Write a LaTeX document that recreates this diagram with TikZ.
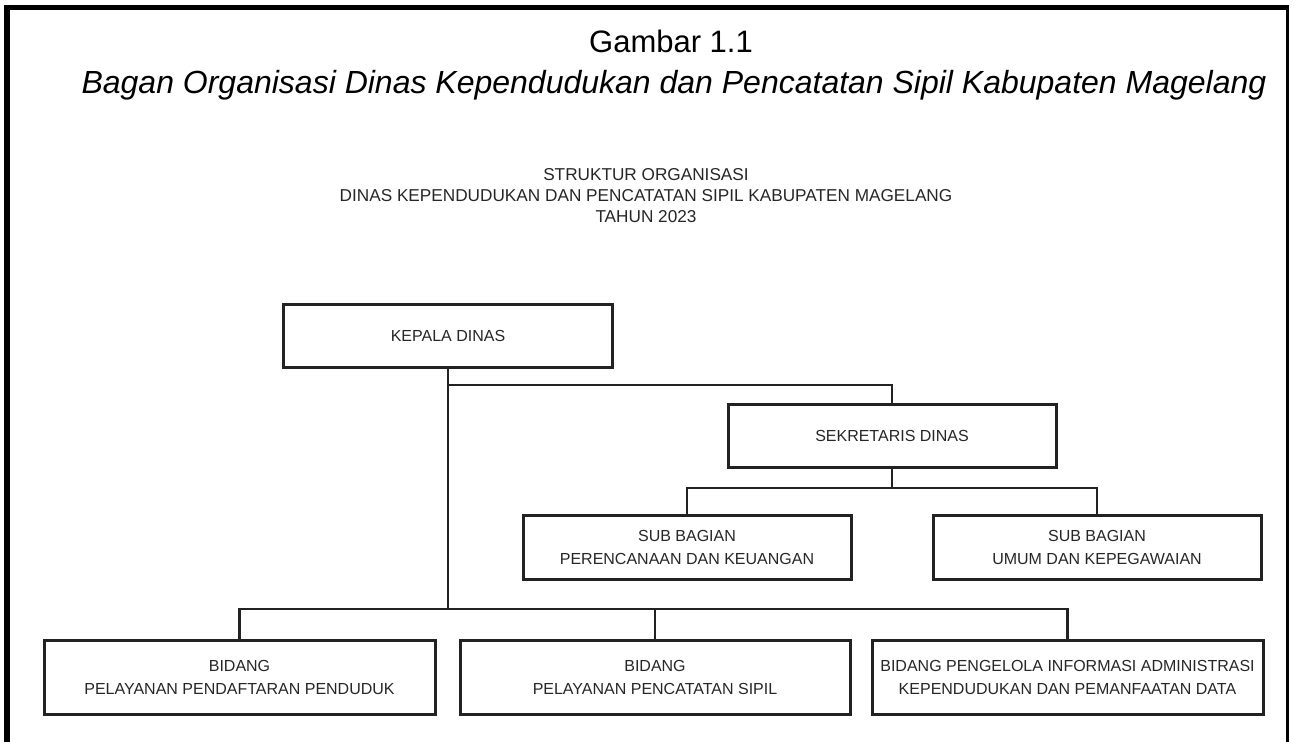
\documentclass[tikz,border=0pt]{standalone}
\usepackage{fontspec}
\setmainfont{Liberation Sans}
\definecolor{ink}{HTML}{222222}
\definecolor{txt}{HTML}{262626}
\begin{document}
\begin{tikzpicture}[x=1pt,y=-1pt,
  orgbox/.style={draw=ink, line width=3pt, rectangle, inner sep=0pt, align=center,
    text=txt, font=\fontsize{16}{23}\selectfont, minimum height=63pt, minimum width=328pt},
  widebox/.style={orgbox, minimum width=391pt, minimum height=74pt},
  conn/.style={draw=ink, line width=2.8pt, line join=miter},
  subtitle/.style={anchor=base, text=txt, font=\fontsize{17.2}{20}\selectfont, inner sep=0pt}]
\useasboundingbox (0,0) rectangle (1294,742);
% frame
\draw[line width=5.5pt] (7,742) -- (7,7.5) -- (1287,7.5);
\draw[line width=3pt] (1287,5) -- (1287,742);
% titles
\node[anchor=base, inner sep=0pt, font=\fontsize{31}{37}\selectfont] (t1) at (671,52) {Gambar 1.1};
\node[anchor=base, inner sep=0pt, font=\fontsize{32}{38}\selectfont\itshape] (t2) at (674,93) {Bagan Organisasi Dinas Kependudukan dan Pencatatan Sipil Kabupaten Magelang};
\node[subtitle] (s1) at (646,180) {STRUKTUR ORGANISASI};
\node[subtitle] (s2) at (646,201) {DINAS KEPENDUDUKAN DAN PENCATATAN SIPIL KABUPATEN MAGELANG};
\node[subtitle] (s3) at (646,222) {TAHUN 2023};
% boxes
\node[orgbox, minimum width=329pt] (kep) at (448,335.5) {KEPALA DINAS};
\node[orgbox] (sek) at (892,435.5) {SEKRETARIS DINAS};
\node[orgbox, minimum height=64pt] (sub1) at (687,547) {SUB BAGIAN\\PERENCANAAN DAN KEUANGAN};
\node[orgbox, minimum height=64pt] (sub2) at (1097,547) {SUB BAGIAN\\UMUM DAN KEPEGAWAIAN};
\node[widebox] (bid1) at (239.5,677) {BIDANG\\PELAYANAN PENDAFTARAN PENDUDUK};
\node[widebox, minimum width=390pt] (bid2) at (655,677) {BIDANG\\PELAYANAN PENCATATAN SIPIL};
\node[widebox] (bid3) at (1067.5,677) {BIDANG PENGELOLA INFORMASI ADMINISTRASI\\KEPENDUDUKAN DAN PEMANFAATAN DATA};
% bus levels
\coordinate (busK) at (0,385);
\coordinate (busS) at (0,488);
\coordinate (busB) at (0,609);
% connectors
\draw[conn] (kep.south) -- (kep.south |- busB);
\draw[conn] (kep.south |- busK) -- (sek.north |- busK) -- (sek.north);
\draw[conn] (sek.south) -- (sek.south |- busS);
\draw[conn] (sub1.north) -- (sub1.north |- busS) -- (sub2.north |- busS) -- (sub2.north);
\draw[conn] (bid1.north) -- (bid1.north |- busB) -- (bid3.north |- busB) -- (bid3.north);
\draw[conn] (bid2.north) -- (bid2.north |- busB);
\end{tikzpicture}
\end{document}
